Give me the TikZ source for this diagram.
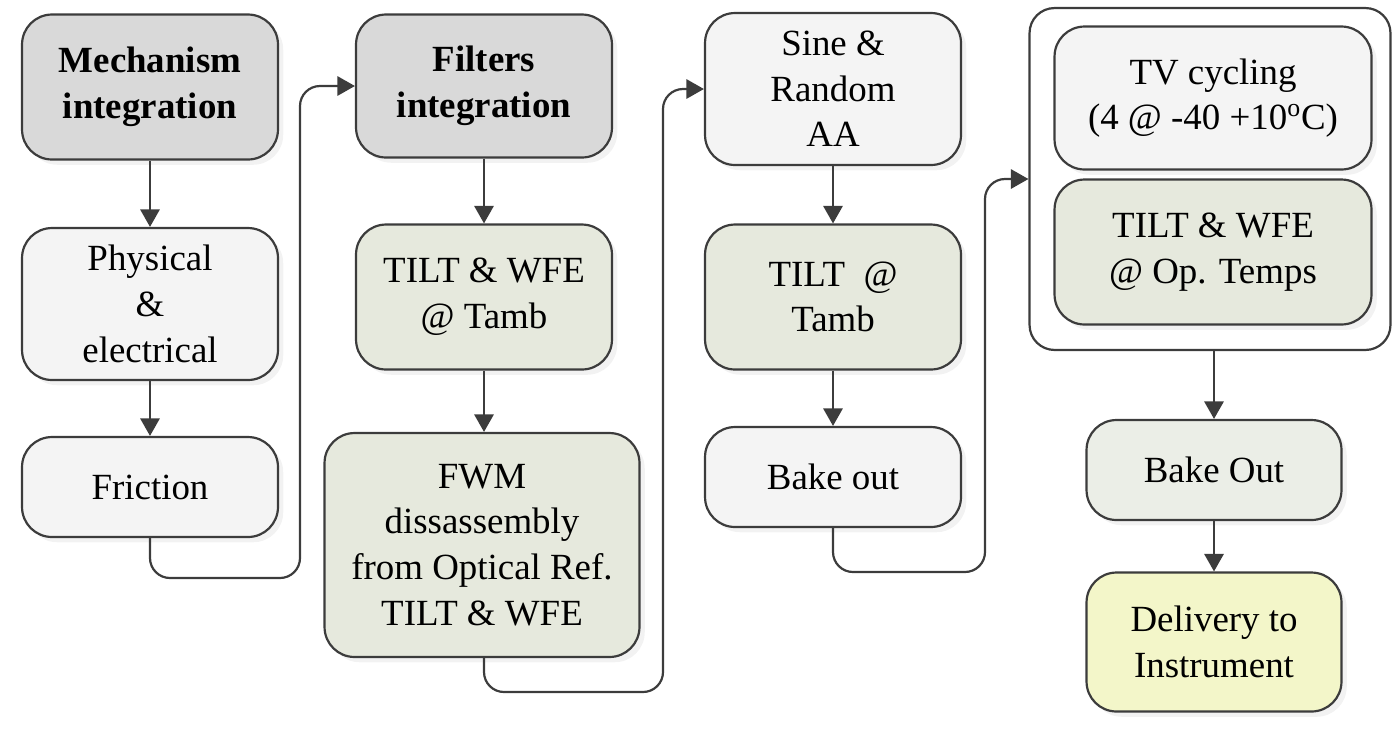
\documentclass[tikz,border=0pt]{standalone}
\usepackage{fontspec}
\setmainfont{Liberation Serif}
\usepackage{xcolor}
\usepackage{tikz}
\usetikzlibrary{arrows.meta,shadows}

\definecolor{edge}{HTML}{3C3C3C}
\definecolor{headfill}{HTML}{D9D9D9}
\definecolor{plainfill}{HTML}{F4F4F4}
\definecolor{testfill}{HTML}{E6E9DD}
\definecolor{bakefill}{HTML}{EBEEE7}
\definecolor{endfill}{HTML}{F3F6C9}

\begin{document}
\begin{tikzpicture}[
  x=0.02cm,y=-0.02cm,>={Triangle[length=10pt,width=11pt]},
  flow/.style={->,draw=edge,line width=1.25pt,rounded corners=0.4cm},
  stage/.style={draw=edge,line width=1.25pt,rounded corners=0.6cm,
    minimum width=5.12cm,align=center,fill=plainfill,
    drop shadow={opacity=0.1,shadow xshift=3pt,shadow yshift=-3pt}},
  headstage/.style={stage,fill=headfill,font=\fontsize{21}{26}\selectfont\bfseries},
  teststage/.style={stage,fill=testfill},
  every node/.style={font=\fontsize{21}{26}\selectfont}
]
  \useasboundingbox (0,0) rectangle (1395,728);

  % first column
  \node[headstage,minimum height=2.9cm] (mechanism) at (150,87)
    {Mechanism\\integration};
  \node[stage,minimum height=3.04cm] (physical) at (150,304)
    {Physical\\\&\\electrical};
  \node[stage,minimum height=2cm] (friction) at (150,487) {Friction};

  % second column
  \node[headstage,minimum height=2.86cm] (filters) at (484,86)
    {Filters\\integration};
  \node[teststage,minimum height=2.9cm] (tilt-amb) at (484,297)
    {TILT \& WFE\\@ Tamb};
  \node[teststage,minimum width=6.3cm,minimum height=4.48cm] (fwm) at (482,545)
    {FWM\\dissassembly\\from Optical Ref.\\TILT \& WFE};

  % third column
  \node[stage,minimum height=3.04cm] (sine) at (833,89)
    {Sine \&\\Random\\AA};
  \node[teststage,minimum height=2.9cm] (tilt-only) at (833,297)
    {TILT\ \ @\\Tamb};
  \node[stage,minimum height=2cm] (bake-out) at (833,477) {Bake out};

  % fourth column
  \node[draw=edge,line width=1.25pt,rounded corners=0.5cm,fill=white,
    minimum width=7.22cm,minimum height=6.84cm] (tv-group) at (1210,179) {};
  \node[stage,minimum width=6.34cm,minimum height=2.86cm] (tv-cycling) at (1213,98)
    {TV cycling\\(4 @ -40 +10\textsuperscript{o}C)};
  \node[teststage,minimum width=6.34cm,minimum height=2.9cm] (tilt-op) at (1213,252)
    {TILT \& WFE\\@ Op. Temps};
  \node[stage,fill=bakefill,minimum width=5.1cm,minimum height=2cm] (bake-final) at (1214,470)
    {Bake Out};
  \node[stage,fill=endfill,minimum width=5.1cm,minimum height=2.78cm] (delivery) at (1214,642)
    {Delivery to\\Instrument};

  \coordinate (return-1) at (300,578);
  \coordinate (return-2) at (663,692);
  \coordinate (return-3) at (985,572);

  \draw[flow] (mechanism) -- (physical);
  \draw[flow] (physical) -- (friction);
  \draw[flow] (friction.south) |- (return-1) |- (filters.west);
  \draw[flow] (filters) -- (tilt-amb);
  \draw[flow] (tilt-amb.south) -- (tilt-amb.south |- fwm.north);
  \draw[flow] (fwm.south -| tilt-amb.south) |- (return-2) |- (sine.west);
  \draw[flow] (sine) -- (tilt-only);
  \draw[flow] (tilt-only) -- (bake-out);
  \draw[flow] (bake-out.south) |- (return-3) |- (tv-group.west);
  \draw[flow] (tv-group.south -| bake-final.north) -- (bake-final.north);
  \draw[flow] (bake-final) -- (delivery);
\end{tikzpicture}
\end{document}
